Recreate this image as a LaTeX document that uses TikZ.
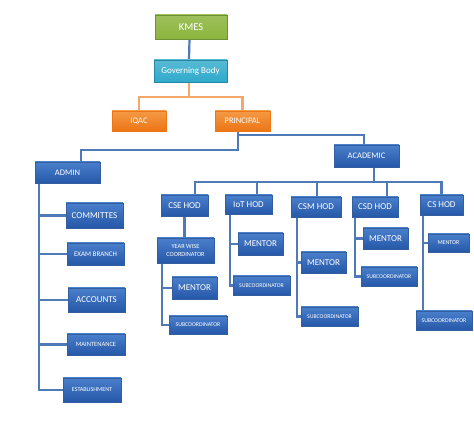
\documentclass[tikz,border=0pt]{standalone}
\usepackage{fontspec}
\setmainfont{Carlito}
\usepackage{tikz}
\usetikzlibrary{shadows,backgrounds}
\definecolor{boxtop}{HTML}{4A7FCC}
\definecolor{boxbot}{HTML}{2558A8}
\definecolor{boxedge}{HTML}{335FA0}
\definecolor{linkblue}{HTML}{4F7AB8}
\definecolor{orgtop}{HTML}{F49A45}
\definecolor{orgbot}{HTML}{EC7515}
\definecolor{orglink}{HTML}{F2A86A}
\definecolor{kmesgreen}{HTML}{8CB53E}
\definecolor{govteal}{HTML}{2FA9CB}

\tikzset{
  unitbox/.style={draw=boxedge, line width=0.5pt, top color=boxtop, bottom color=boxbot,
    text=white, align=center, inner sep=1pt,
    drop shadow={opacity=0.18, shadow xshift=1pt, shadow yshift=-1.5pt}},
  orgbox/.style={unitbox, draw=orgbot, top color=orgtop, bottom color=orgbot},
  link/.style={draw=linkblue, line width=2.2pt},
  orglinkline/.style={draw=orglink, line width=2.2pt}
}

\begin{document}
\begin{tikzpicture}[x=1pt, y=-1pt]
\useasboundingbox (0,0) rectangle (474,443);
% top of the chart
\node[unitbox, draw=kmesgreen!80!black, top color=kmesgreen!85!white, bottom color=kmesgreen, minimum width=72, minimum height=24, font=\fontsize{10.5}{12}\selectfont] (kmes) at (191,27) {KMES};
\node[unitbox, draw=govteal!80!black, top color=govteal!80!white, bottom color=govteal, minimum width=73, minimum height=22, font=\fontsize{9}{10}\selectfont] (gb) at (190.5,71) {Governing Body};
\node[orgbox, minimum width=54, minimum height=20, font=\fontsize{8.5}{9}\selectfont] (iqac) at (139,121) {IQAC};
\node[orgbox, minimum width=55, minimum height=20, font=\fontsize{8.5}{9}\selectfont] (prin) at (242.5,121) {PRINCIPAL};

\node[unitbox, minimum width=65, minimum height=21, font=\fontsize{8.5}{9}\selectfont] (admin) at (67.5,172.5) {ADMIN};
\node[unitbox, minimum width=65, minimum height=22, font=\fontsize{8.5}{9}\selectfont] (acad) at (366.5,156) {ACADEMIC};

% admin side
\node[unitbox, minimum width=57, minimum height=25, font=\fontsize{9}{10}\selectfont] (comm) at (94.5,215.5) {COMMITTES};
\node[unitbox, minimum width=57, minimum height=22, font=\fontsize{7}{8}\selectfont] (exam) at (95.5,254) {EXAM BRANCH};
\node[unitbox, minimum width=57, minimum height=24, font=\fontsize{9}{10}\selectfont] (acc) at (96.5,300) {ACCOUNTS};
\node[unitbox, minimum width=58, minimum height=21, font=\fontsize{6.5}{7}\selectfont] (maint) at (96,344.5) {MAINTENANCE};
\node[unitbox, minimum width=58, minimum height=24, font=\fontsize{6}{7}\selectfont] (estab) at (92,390) {ESTABLISHMENT};

% academic side
\node[unitbox, minimum width=47, minimum height=21, font=\fontsize{9}{10}\selectfont] (cse) at (184.5,205.5) {CSE HOD};
\node[unitbox, minimum width=47, minimum height=19, font=\fontsize{9}{10}\selectfont] (iot) at (248.5,204.5) {IoT HOD};
\node[unitbox, minimum width=50, minimum height=20, font=\fontsize{9}{10}\selectfont] (csm) at (316,207) {CSM HOD};
\node[unitbox, minimum width=46, minimum height=20, font=\fontsize{9}{10}\selectfont] (csd) at (375,207) {CSD HOD};
\node[unitbox, minimum width=43, minimum height=20, font=\fontsize{9}{10}\selectfont] (cs) at (441.5,205) {CS HOD};

\node[unitbox, minimum width=57, minimum height=25, font=\fontsize{6.3}{8.5}\selectfont] (ywc) at (185.5,250.5) {YEAR WISE\\COORDINATOR};
\node[unitbox, minimum width=45, minimum height=22, font=\fontsize{9}{10}\selectfont] (cseme) at (194.5,288) {MENTOR};
\node[unitbox, minimum width=58, minimum height=18, font=\fontsize{5.8}{6}\selectfont] (csesub) at (198,325) {SUBCOORDINATOR};

\node[unitbox, minimum width=45, minimum height=22, font=\fontsize{9}{10}\selectfont] (iotme) at (260.5,244) {MENTOR};
\node[unitbox, minimum width=57, minimum height=19, font=\fontsize{5.8}{6}\selectfont] (iotsub) at (261.5,285.5) {SUBCOORDINATOR};

\node[unitbox, minimum width=45, minimum height=21, font=\fontsize{9}{10}\selectfont] (csmme) at (323.5,262.5) {MENTOR};
\node[unitbox, minimum width=57, minimum height=19, font=\fontsize{5.8}{6}\selectfont] (csmsub) at (329.5,316.5) {SUBCOORDINATOR};

\node[unitbox, minimum width=45, minimum height=21, font=\fontsize{9}{10}\selectfont] (csdme) at (385.5,238.5) {MENTOR};
\node[unitbox, minimum width=56, minimum height=19, font=\fontsize{5.8}{6}\selectfont] (csdsub) at (389,276.5) {SUBCOORDINATOR};

\node[unitbox, minimum width=41, minimum height=18, font=\fontsize{6}{7}\selectfont] (csme) at (448.5,243) {MENTOR};
\node[unitbox, minimum width=56, minimum height=19, font=\fontsize{5.8}{6}\selectfont] (cssub) at (444,320.5) {SUBCOORDINATOR};

% connectors, drawn behind the boxes
\begin{scope}[on background layer]
\draw[link] ([xshift=-1.5]kmes.south) -- ([xshift=-1.5]gb.north);
\draw[orglinkline] ([xshift=-1.5]gb.south) -- ++(0,15) -| (iqac.north);
\draw[orglinkline] ([xshift=-1.5]gb.south) -- ++(0,15) -| (prin.north);

\draw[link] ([xshift=-4.5]prin.south) -- ++(0,18.5) -| ([xshift=13.5]admin.north);
\draw[link] ([xshift=-4.5]prin.south) ++(0,3.5) -| ([xshift=-2.5]acad.north);

\draw[link] ([xshift=-28.5]admin.south) |- (comm.west);
\draw[link] ([xshift=-28.5]admin.south) |- (exam.west);
\draw[link] ([xshift=-28.5]admin.south) |- (acc.west);
\draw[link] ([xshift=-28.5]admin.south) |- (maint.west);
\draw[link] ([xshift=-28.5]admin.south) |- (estab.west);

\draw[link] ([xshift=7.5]acad.south) -- ++(0,15) -| ([xshift=10.5]cse.north);
\draw[link] ([xshift=7.5]acad.south) -- ++(0,15) -| ([xshift=8.5]iot.north);
\draw[link] ([xshift=7.5]acad.south) -- ++(0,15) -| ([xshift=1]csm.north);
\draw[link] ([xshift=7.5]acad.south) -- ++(0,15) -| ([xshift=12]csd.north);
\draw[link] ([xshift=7.5]acad.south) -- ++(0,15) -| (cs.north);

\draw[link] (cse.south) -- (cse.south |- ywc.north);
\draw[link] ([xshift=-23.5]ywc.south) |- (cseme.west);
\draw[link] ([xshift=-23.5]ywc.south) |- (csesub.west);

\draw[link] ([xshift=-18.5]iot.south) |- (iotme.west);
\draw[link] ([xshift=-18.5]iot.south) |- (iotsub.west);

\draw[link] ([xshift=-19]csm.south) |- (csmme.west);
\draw[link] ([xshift=-19]csm.south) |- (csmsub.west);

\draw[link] ([xshift=-20]csd.south) |- (csdme.west);
\draw[link] ([xshift=-20]csd.south) |- (csdsub.west);

\draw[link] ([xshift=-18.5]cs.south) |- (csme.west);
\draw[link] ([xshift=-18.5]cs.south) -- ([xshift=-18.5]cs.south |- cssub.north);
\end{scope}
\end{tikzpicture}
\end{document}
